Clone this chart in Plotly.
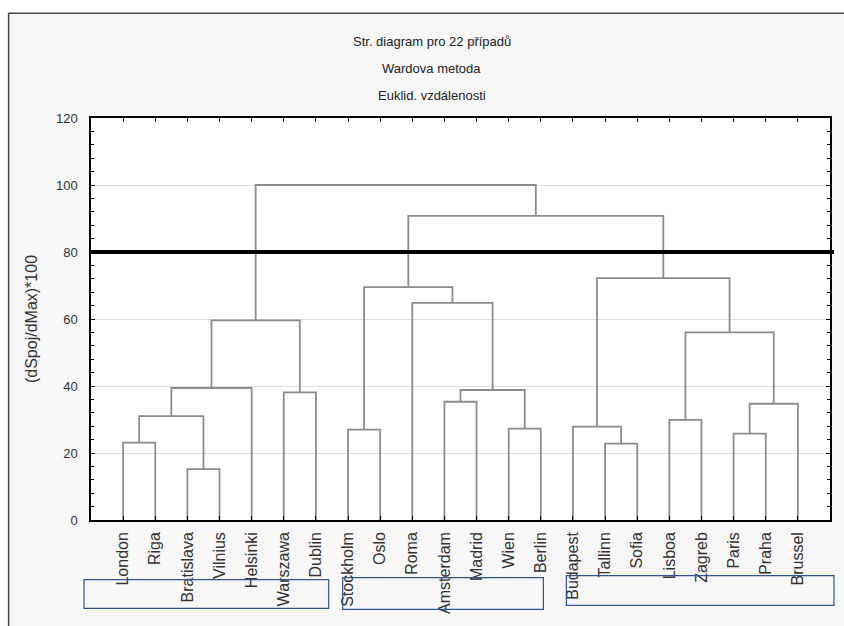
import plotly.graph_objects as go

# Leaves of the dendrogram, in display order
CITIES = ["London", "Riga", "Bratislava", "Vilnius", "Helsinki", "Warszawa", "Dublin",
          "Stockholm", "Oslo", "Roma", "Amsterdam", "Madrid", "Wien", "Berlin",
          "Budapest", "Tallinn", "Sofia", "Lisboa", "Zagreb", "Paris", "Praha", "Brussel"]

# Ward linkage steps: each joins two members (a city or an earlier step "#k")
MERGE_A = ["Bratislava", "Tallinn", "London", "Paris", "Stockholm", "Wien", "Budapest",
           "Lisboa", "#2", "#3", "Amsterdam", "Warszawa", "#10", "#8", "#7", "#13",
           "Roma", "#4", "#6", "#17", "#15"]
MERGE_B = ["Vilnius", "Sofia", "Riga", "Praha", "Oslo", "Berlin", "#1",
           "Zagreb", "#0", "Brussel", "Madrid", "Dublin", "#5", "Helsinki", "#9", "#11",
           "#12", "#16", "#14", "#18", "#19"]
MERGE_HEIGHT = [15.2, 22.8, 23.1, 25.8, 27.0, 27.3, 27.9,
                29.9, 31.0, 34.7, 35.3, 38.1, 38.8, 39.4, 56.0, 59.6,
                64.8, 69.5, 72.2, 90.8, 100.0]

CUT_HEIGHT = 80
Y_TICKS = [0, 20, 40, 60, 80, 100, 120]

TITLE_LINES = ["Str. diagram pro 22 případů", "Wardova metoda", "Euklid. vzdálenosti"]
Y_TITLE = "(dSpoj/dMax)*100"

FONT = "Liberation Sans, Arial, sans-serif"
TEXT_COLOR = "#333333"

# plot-area geometry in pixels
W_FIG, H_FIG = 844, 626
L, R, T, B = 91, 831, 118, 523


def px_x(px):
    return (px - L) / (R - L)


def px_y(py):
    return (B - py) / (B - T)


# node positions: leaves at 1..n, merged nodes at the midpoint of their children
pos = {c: (i + 1, 0.0) for i, c in enumerate(CITIES)}
xs, ys = [], []
for k, (a, b, h) in enumerate(zip(MERGE_A, MERGE_B, MERGE_HEIGHT)):
    xa, ya = pos[a]
    xb, yb = pos[b]
    xs += [xa, xa, xb, xb, None]
    ys += [ya, h, h, yb, None]
    pos[f"#{k}"] = ((xa + xb) / 2, h)

fig = go.Figure()
fig.add_trace(go.Scatter(
    x=xs, y=ys, mode="lines",
    line=dict(color="#8c8c8c", width=1.8),
    hoverinfo="skip", showlegend=False,
))

shapes = []
# outer frame of the window
shapes.append(dict(type="rect", xref="paper", yref="paper",
                   x0=px_x(-2), x1=px_x(8), y0=px_y(640), y1=px_y(-2),
                   fillcolor="white", line=dict(width=0), layer="above"))
shapes.append(dict(type="rect", xref="paper", yref="paper",
                   x0=px_x(-2), x1=px_x(850), y0=px_y(12), y1=px_y(-2),
                   fillcolor="white", line=dict(width=0), layer="above"))
shapes.append(dict(type="line", xref="paper", yref="paper",
                   x0=px_x(8.5), x1=px_x(8.5), y0=px_y(640), y1=px_y(12.5),
                   line=dict(color="#444444", width=1.5)))
shapes.append(dict(type="line", xref="paper", yref="paper",
                   x0=px_x(8.5), x1=px_x(850), y0=px_y(12.5), y1=px_y(12.5),
                   line=dict(color="#444444", width=1.5)))

# cut level
shapes.append(dict(type="line", xref="paper", yref="y",
                   x0=0, x1=px_x(835), y0=CUT_HEIGHT, y1=CUT_HEIGHT,
                   line=dict(color="black", width=4)))

# boxes under the three clusters
for x0, x1, y0, y1 in [(84, 329, 583, 612), (343, 544, 581, 613), (567, 835, 579, 609)]:
    shapes.append(dict(type="rect", xref="paper", yref="paper",
                       x0=px_x(x0), x1=px_x(x1), y0=px_y(y1), y1=px_y(y0),
                       line=dict(color="#2f5597", width=1.2), fillcolor="rgba(0,0,0,0)"))

annotations = []
for text, py in zip(TITLE_LINES, [41, 68, 95]):
    annotations.append(dict(text=text, xref="paper", yref="paper",
                            x=px_x(432), y=px_y(py), xanchor="center", yanchor="middle",
                            showarrow=False, font=dict(family=FONT, size=13, color="#222222")))

fig.update_layout(
    width=W_FIG, height=H_FIG,
    margin=dict(l=L, r=W_FIG - R, t=T, b=H_FIG - B),
    paper_bgcolor="#f7f7f7", plot_bgcolor="white",
    font=dict(family=FONT, color=TEXT_COLOR),
    shapes=shapes, annotations=annotations,
    showlegend=False,
)

fig.update_xaxes(
    range=[0, len(CITIES) + 1],
    tickvals=list(range(1, len(CITIES) + 1)), ticktext=CITIES,
    tickangle=-90, tickfont=dict(size=16, color=TEXT_COLOR),
    ticks="inside", ticklen=4, tickcolor="black", tickwidth=1,
    showline=True, linecolor="black", linewidth=1.5, mirror="ticks",
    showgrid=False, zeroline=False, ticklabelstandoff=4,
)
fig.update_yaxes(
    range=[0, 120], tickvals=Y_TICKS,
    tickfont=dict(size=13, color=TEXT_COLOR),
    ticks="inside", ticklen=4, tickcolor="black", tickwidth=1,
    minor=dict(dtick=4, ticks="inside", ticklen=3, tickcolor="black", showgrid=False),
    showline=True, linecolor="black", linewidth=1.5, mirror="ticks",
    showgrid=True, gridcolor="#dedede", gridwidth=1, zeroline=False,
    ticklabelstandoff=9,
    title=dict(text=Y_TITLE, font=dict(size=16, color=TEXT_COLOR), standoff=14),
)

fig.write_html("out.html")
